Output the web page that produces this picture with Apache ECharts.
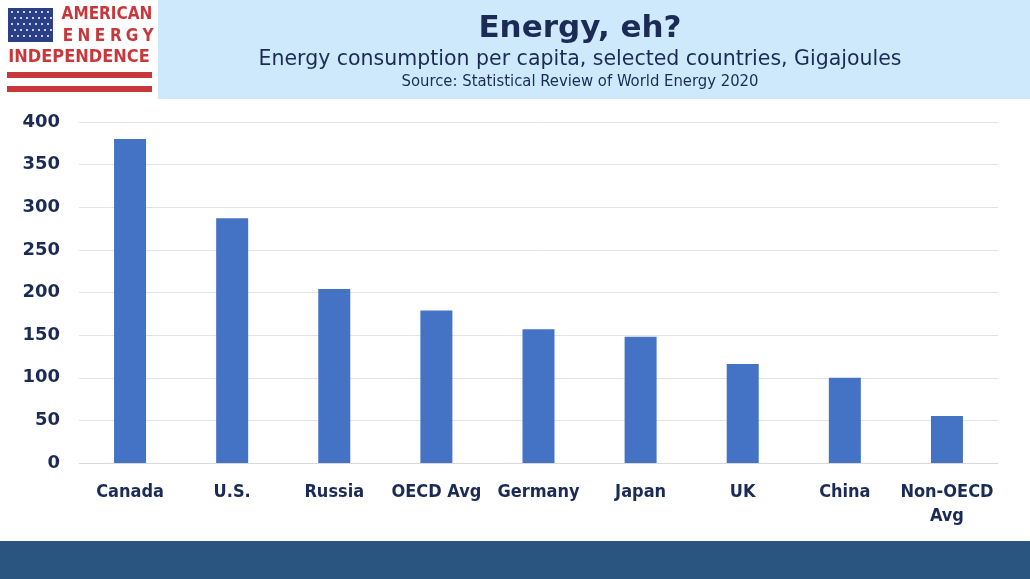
<!DOCTYPE html>
<html>
<head>
<meta charset="utf-8">
<script src="https://cdn.jsdelivr.net/npm/echarts@6/dist/echarts.min.js"></script>
<style>
  html, body { margin: 0; padding: 0; background: #fff; }
  #chart { width: 1030px; height: 579px; }
</style>
</head>
<body>
<div id="chart"></div>
<script>
// data (Gigajoules per capita)
const countries = ['Canada', 'U.S.', 'Russia', 'OECD Avg', 'Germany', 'Japan', 'UK', 'China', 'Non-OECD\nAvg'];
const perCapita = [380, 287, 204, 179, 157, 148, 116, 100, 55];
const yTicks = [0, 50, 100, 150, 200, 250, 300, 350, 400];

const navy = '#1b2b55';
const red = '#c8383a';

// logo stars, just decoration
const stars = [];
for (let r = 0; r < 5; r++) {
    for (let c = 0; c < 7; c++) {
        stars.push({
            type: 'circle',
            shape: { cx: 12 + c * 6 + (r % 2) * 3, cy: 12 + r * 6, r: 1 },
            style: { fill: '#fff' }
        });
    }
}
// spaced out "ENERGY" in the logo
const energyLetters = 'ENERGY'.split('').map((ch, i) => ({
    type: 'text', x: 68 + i * 16, y: 37,
    style: { text: ch, fill: red, font: 'bold 17px "DejaVu Sans Condensed"', align: 'center', verticalAlign: 'middle' }
}));

const chart = echarts.init(document.getElementById('chart'));

const option = {
    backgroundColor: '#fff',
    animation: false,
    graphic: [
        { type: 'rect', shape: { x: 158, y: 0, width: 872, height: 99 }, style: { fill: '#cde9fb' } },
        { type: 'rect', shape: { x: 0, y: 541, width: 1030, height: 38 }, style: { fill: '#2a5580' } },
        // logo
        { type: 'rect', shape: { x: 8, y: 8, width: 45, height: 34 }, style: { fill: '#2b3f86' } },
        { type: 'group', children: stars },
        { type: 'text', x: 107, y: 15, style: { text: 'AMERICAN', fill: red, font: 'bold 17px "DejaVu Sans Condensed"', align: 'center', verticalAlign: 'middle' } },
        { type: 'group', children: energyLetters },
        { type: 'text', x: 79, y: 57, style: { text: 'INDEPENDENCE', fill: red, font: 'bold 18px "DejaVu Sans Condensed"', align: 'center', verticalAlign: 'middle' } },
        { type: 'rect', shape: { x: 7, y: 72, width: 145, height: 6 }, style: { fill: red } },
        { type: 'rect', shape: { x: 7, y: 86, width: 145, height: 6 }, style: { fill: red } },
        // titles
        { type: 'text', x: 580, y: 29, style: { text: 'Energy, eh?', fill: navy, font: 'bold 31px "DejaVu Sans"', align: 'center', verticalAlign: 'middle' } },
        { type: 'text', x: 580, y: 60, style: { text: 'Energy consumption per capita, selected countries, Gigajoules', fill: navy, font: '20.5px "DejaVu Sans"', align: 'center', verticalAlign: 'middle' } },
        { type: 'text', x: 580, y: 82, style: { text: 'Source: Statistical Review of World Energy 2020', fill: navy, font: '16.5px "DejaVu Sans Condensed"', align: 'center', verticalAlign: 'middle' } }
    ],
    grid: { left: 79, right: 32, top: 122, bottom: 116 },
    xAxis: {
        type: 'category',
        data: countries,
        axisTick: { show: false },
        axisLine: { lineStyle: { color: '#d9d9d9' } },
        axisLabel: {
            color: navy,
            fontFamily: 'DejaVu Sans Condensed',
            fontWeight: 'bold',
            fontSize: 18,
            margin: 17,
            lineHeight: 24,
            interval: 0
        }
    },
    yAxis: {
        type: 'value',
        min: yTicks[0],
        max: yTicks[yTicks.length - 1],
        interval: 50,
        axisLine: { show: false },
        axisTick: { show: false },
        splitLine: { lineStyle: { color: '#e3e3e3' } },
        axisLabel: {
            color: navy,
            fontFamily: 'DejaVu Sans',
            fontWeight: 'bold',
            fontSize: 18,
            margin: 19
        }
    },
    series: [{
        type: 'bar',
        data: perCapita,
        barWidth: 32,
        itemStyle: { color: '#4472c4' }
    }]
};

chart.setOption(option);
</script>
</body>
</html>
